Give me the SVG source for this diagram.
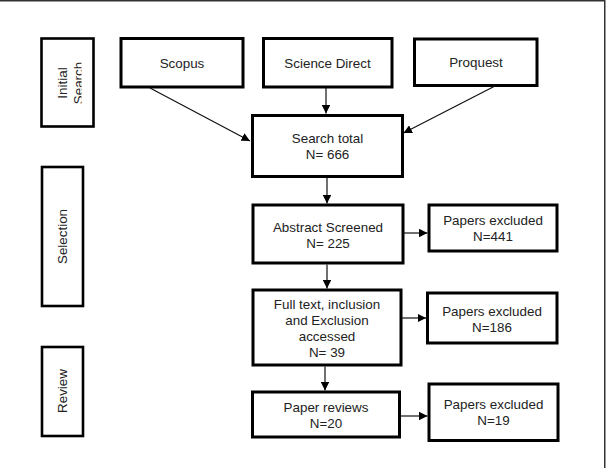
<svg xmlns="http://www.w3.org/2000/svg" width="607" height="468" viewBox="0 0 607 468">
<style>
.box{fill:#fff;stroke:#000;stroke-width:3}
.lbl{fill:#fff;stroke:#000;stroke-width:2.6}
.t{font-family:"Liberation Sans",Arial,sans-serif;font-size:13.4px;fill:#222;text-anchor:middle}
.c{stroke:#111;stroke-width:1.2;fill:none;marker-end:url(#ah)}
</style>
<defs>
<marker id="ah" viewBox="0 0 10 10" refX="10" refY="5" markerWidth="8.5" markerHeight="8.5" markerUnits="userSpaceOnUse" orient="auto">
<path d="M0,0 L10,5 L0,10 Z" fill="#000"/>
</marker>
<clipPath id="clipIS"><rect x="41" y="38" width="40.5" height="88"/></clipPath>
</defs>
<rect width="607" height="468" fill="#fff"/>
<path d="M0,0.75 H604.75 V468" fill="none" stroke="#333" stroke-width="1.5"/>

<g id="initial-search">
<rect class="lbl" x="41.5" y="38.5" width="52" height="88"/>
<g clip-path="url(#clipIS)">
<g transform="translate(67.5,83) rotate(-90)">
<text class="t" x="0" y="-0.5">Initial</text>
<text class="t" x="0" y="15.5">Search</text>
</g>
</g>
</g>

<g id="selection">
<rect class="lbl" x="42" y="167" width="41" height="139"/>
<text class="t" transform="translate(62.5,236.5) rotate(-90)" x="0" y="4.7">Selection</text>
</g>

<g id="review">
<rect class="lbl" x="42" y="347" width="41" height="89"/>
<text class="t" transform="translate(62.5,391) rotate(-90)" x="0" y="4.7">Review</text>
</g>

<g id="scopus">
<rect class="box" x="121" y="38.5" width="122" height="48.5"/>
<text class="t" x="182" y="67.5">Scopus</text>
</g>

<g id="science-direct">
<rect class="box" x="263.5" y="38.5" width="128.5" height="48.5"/>
<text class="t" x="327.5" y="67.5">Science Direct</text>
</g>

<g id="proquest">
<rect class="box" x="414.5" y="39" width="122.5" height="46.5"/>
<text class="t" x="476" y="67">Proquest</text>
</g>

<g id="search-total">
<rect class="box" x="252.5" y="115.5" width="150" height="61"/>
<text class="t" x="327.5" y="143">Search total</text>
<text class="t" x="327.5" y="158.5">N= 666</text>
</g>

<g id="abstract-screened">
<rect class="box" x="253" y="205" width="150" height="58"/>
<text class="t" x="328" y="232">Abstract Screened</text>
<text class="t" x="328" y="247.5">N= 225</text>
</g>

<g id="excluded-441">
<rect class="box" x="429" y="205" width="128" height="46"/>
<text class="t" x="493" y="225">Papers excluded</text>
<text class="t" x="493" y="241">N=441</text>
</g>

<g id="full-text">
<rect class="box" x="253" y="290" width="148" height="75"/>
<text class="t" x="327" y="309">Full text, inclusion</text>
<text class="t" x="327" y="325">and Exclusion</text>
<text class="t" x="327" y="341">accessed</text>
<text class="t" x="327" y="356.5">N= 39</text>
</g>

<g id="excluded-186">
<rect class="box" x="427.5" y="293" width="129.5" height="50"/>
<text class="t" x="492" y="316">Papers excluded</text>
<text class="t" x="492" y="331.5">N=186</text>
</g>

<g id="paper-reviews">
<rect class="box" x="252.5" y="392" width="147" height="45"/>
<text class="t" x="326" y="412">Paper reviews</text>
<text class="t" x="326" y="427.5">N=20</text>
</g>

<g id="excluded-19">
<rect class="box" x="429" y="384" width="129" height="56.5"/>
<text class="t" x="493.5" y="409">Papers excluded</text>
<text class="t" x="493.5" y="424.5">N=19</text>
</g>

<g id="connectors">
<line class="c" x1="150" y1="88" x2="250" y2="141"/>
<line class="c" x1="326" y1="88" x2="326" y2="113.5"/>
<line class="c" x1="495" y1="86" x2="403.5" y2="133"/>
<line class="c" x1="327" y1="178" x2="327" y2="203.5"/>
<line class="c" x1="403" y1="233" x2="427.5" y2="233"/>
<line class="c" x1="327" y1="264.5" x2="327" y2="288.5"/>
<line class="c" x1="401" y1="318" x2="426" y2="318"/>
<line class="c" x1="325" y1="366.5" x2="325" y2="390.5"/>
<line class="c" x1="399.5" y1="416" x2="427.5" y2="416"/>
</g>
</svg>
